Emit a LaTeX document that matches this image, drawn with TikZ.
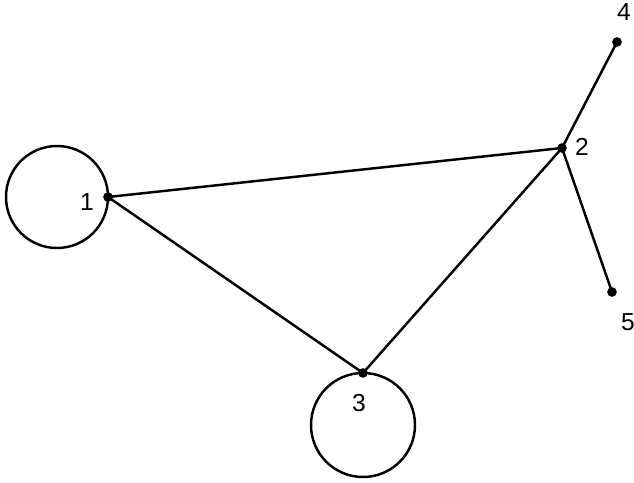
\documentclass[tikz,border=0pt]{standalone}
\usepackage{fontspec}
\setmainfont{Liberation Sans}

\begin{document}
\begin{tikzpicture}[line width=1.4pt,
  vertex/.style={circle, fill=black, inner sep=0pt, minimum size=5.5pt},
  vlabel/.style={font=\fontsize{14}{16}\selectfont, inner sep=0pt}]
\useasboundingbox (0,0) rectangle (12.68,9.64);
\node[vertex] (v1) at (2.16,5.70) {};
\node[vertex] (v2) at (11.24,6.68) {};
\node[vertex] (v3) at (7.26,2.18) {};
\node[vertex] (v4) at (12.34,8.80) {};
\node[vertex] (v5) at (12.24,3.80) {};
\node[vlabel] (l1) at (1.74,5.60) {1};
\node[vlabel] (l2) at (11.64,6.70) {2};
\node[vlabel] (l3) at (7.18,1.58) {3};
\node[vlabel] (l4) at (12.48,9.40) {4};
\node[vlabel] (l5) at (12.56,3.20) {5};
\draw (v1.center) -- (v2.center);
\draw (v1.center) -- (v3.center);
\draw (v3.center) -- (v2.center);
\draw (v2.center) -- (v4.center);
\draw (v2.center) -- (v5.center);
% loops
\draw (v1.center) arc[start angle=0, end angle=360, radius=1.02cm];
\draw (v3.center) arc[start angle=90, end angle=450, radius=1.04cm];
\end{tikzpicture}
\end{document}
